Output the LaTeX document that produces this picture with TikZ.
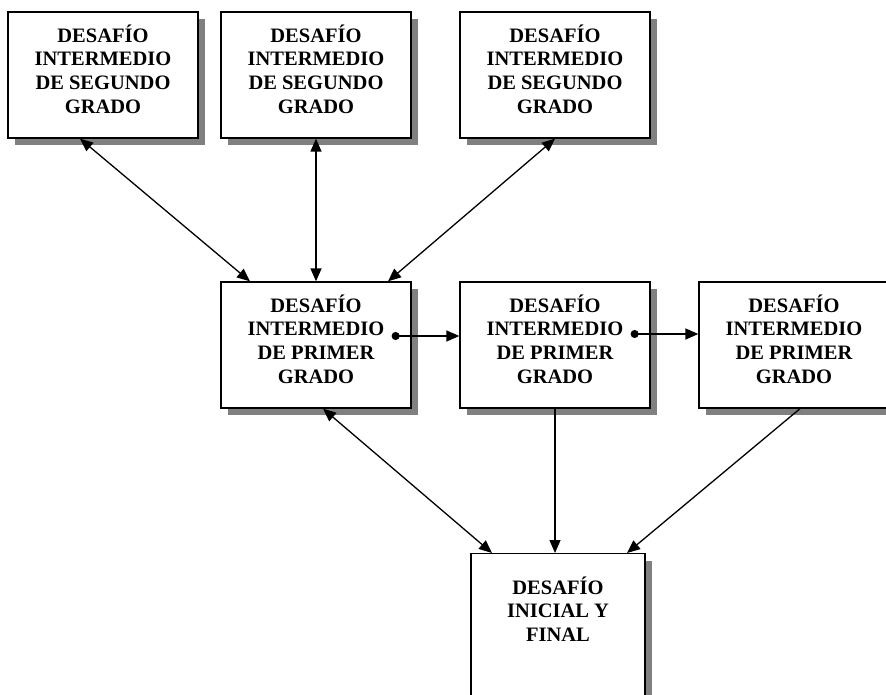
\documentclass[tikz,border=0pt]{standalone}
\usepackage{fontspec}
\setmainfont{Liberation Serif}
\usetikzlibrary{arrows.meta, shadows}

\begin{document}
\begin{tikzpicture}[x=1pt, y=-1pt, line width=1.3pt,
    >={Triangle[length=13pt,width=11pt]},
    boxtext/.style={align=center, font=\fontsize{20.5}{23.7}\selectfont\bfseries},
    box/.style={draw, fill=white, minimum width=190pt, minimum height=126pt,
      drop shadow={shadow xshift=7pt, shadow yshift=-7pt, fill=black!50, opacity=1},
      label={[boxtext, yshift=6pt]center:{#1}}}]
    \useasboundingbox (0,0) rectangle (886,695);
    \clip (0,0) rectangle (886,695);
    % second grade challenges
    \foreach \n/\x in {1/103,2/316,3/555}
      \node[box={DESAFÍO\\INTERMEDIO\\DE SEGUNDO\\GRADO}] (seg\n) at (\x,75) {};
    % first grade challenges
    \foreach \n/\x in {1/316,2/555,3/794}
      \node[box={DESAFÍO\\INTERMEDIO\\DE PRIMER\\GRADO}] (pri\n) at (\x,345) {};
    \node[box={}, minimum width=174pt, minimum height=200pt, anchor=north] (ini) at (558,553) {};
    \node[boxtext] (initxt) at ([yshift=-56pt]ini.north) {DESAFÍO\\INICIAL Y\\FINAL};
    % links
    \draw[<->] ([xshift=-23pt]seg1.south) -- ([xshift=-66pt]pri1.north);
    \draw[<->] (seg2.south) -- (pri1.north);
    \draw[<->] (seg3.south) -- ([xshift=72pt]pri1.north);
    \draw[{Circle[length=8pt]}->] ([xshift=-20pt,yshift=9pt]pri1.east) -- ([yshift=9pt]pri2.west);
    \draw[{Circle[length=8pt]}->] ([xshift=-20pt,yshift=11pt]pri2.east) -- ([yshift=11pt]pri3.west);
    \draw[<->] ([xshift=7pt]pri1.south) -- ([xshift=-66pt]ini.north);
    \draw[->] (pri2.south) -- (pri2.south |- ini.north);
    \draw[->] ([xshift=6pt]pri3.south) -- ([xshift=69pt]ini.north);
  \end{tikzpicture}
\end{document}
